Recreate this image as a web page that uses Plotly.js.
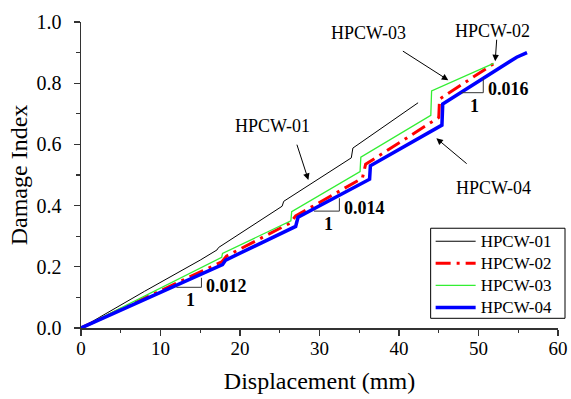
<!DOCTYPE html>
<html>
<head>
<meta charset="utf-8">
<script src="https://cdn.plot.ly/plotly-3.0.1.min.js"></script>
<style>html,body{margin:0;padding:0;background:#fff;}#chart{width:571px;height:399px;}</style>
</head>
<body>
<div id="chart"></div>
<script>
// ---- data ----
const seriesNames = ["HPCW-01", "HPCW-02", "HPCW-03", "HPCW-04"];

const x01 = [0, 8.0, 15.0, 17.1, 17.3, 25.3, 25.5, 34.0, 34.2, 42.4];
const y01 = [0, 0.120, 0.222, 0.255, 0.263, 0.398, 0.414, 0.556, 0.588, 0.736];

const x02 = [0, 8.0, 17.7, 18.3, 26.3, 27.0, 35.4, 35.8, 45.0, 45.1, 52.1];
const y02 = [0, 0.098, 0.216, 0.235, 0.343, 0.366, 0.490, 0.535, 0.688, 0.748, 0.867];

const x03 = [0, 8.0, 17.7, 17.8, 26.4, 26.5, 35.1, 35.2, 44.0, 44.1, 51.9];
const y03 = [0, 0.104, 0.231, 0.244, 0.350, 0.380, 0.511, 0.558, 0.695, 0.775, 0.865];

const x04 = [0, 8.0, 17.8, 18.2, 27.0, 27.3, 36.3, 36.4, 45.4, 45.5, 54.8, 56.1];
const y04 = [0, 0.094, 0.207, 0.222, 0.332, 0.362, 0.486, 0.530, 0.663, 0.732, 0.885, 0.900];

const xTicks = [0, 10, 20, 30, 40, 50, 60];
const yTicks = [0.0, 0.2, 0.4, 0.6, 0.8, 1.0];
const yTickText = ["0.0", "0.2", "0.4", "0.6", "0.8", "1.0"];

// slope triangles (horizontal leg x0->x1 at y0, vertical leg y0->y1 at x1)
const slopeX0 = [12.0, 29.3, 47.85];
const slopeX1 = [15.15, 32.5, 50.6];
const slopeY0 = [0.133, 0.382, 0.769];
const slopeY1 = [0.164, 0.424, 0.816];
const slopeText = ["0.012", "0.014", "0.016"];

// curve labels: text position and arrow tail/head
const labelText = ["HPCW-01", "HPCW-03", "HPCW-02", "HPCW-04"];
const labelX = [24.1, 36.1, 51.8, 51.9];
const labelY = [0.660, 0.965, 0.970, 0.457];
const arrowTailX = [27.1, 40.3, 52.3, 48.7];
const arrowTailY = [0.604, 0.908, 0.947, 0.533];
const arrowHeadX = [28.6, 46.2, 52.1, 44.7];
const arrowHeadY = [0.484, 0.810, 0.872, 0.620];

// ---- figure ----
const FONT = "Liberation Serif, Times New Roman, serif";
const legendName = n => '<span style="font-size:17px">' + n + '</span>';

const traces = [
  {x: x01, y: y01, name: legendName(seriesNames[0]), mode: "lines", line: {color: "#000000", width: 1}},
  {x: x02, y: y02, name: legendName(seriesNames[1]), mode: "lines", line: {color: "#ff0000", width: 3, dash: "15px,6px,3px,6px"}},
  {x: x03, y: y03, name: legendName(seriesNames[2]), mode: "lines", line: {color: "#33ee33", width: 1.3}},
  {x: x04, y: y04, name: legendName(seriesNames[3]), mode: "lines", line: {color: "#0000ff", width: 3.5}}
];

const shapes = slopeX0.map((x0, i) => ({
  type: "path", xref: "x", yref: "y",
  path: "M " + x0 + " " + slopeY0[i] + " L " + slopeX1[i] + " " + slopeY0[i] + " L " + slopeX1[i] + " " + slopeY1[i],
  line: {color: "#333333", width: 1}
}));
// legend frame
shapes.push({type: "rect", xref: "paper", yref: "paper", x0: 0.733, x1: 1.0147, y0: 0.0317, y1: 0.326,
  line: {color: "#000000", width: 1}, fillcolor: "rgba(0,0,0,0)"});

const annotations = [];
slopeText.forEach((t, i) => {
  annotations.push({x: slopeX1[i], y: (slopeY0[i] + slopeY1[i]) / 2 - 0.012, xref: "x", yref: "y",
    text: "<b>" + t + "</b>", showarrow: false, xanchor: "left", yanchor: "middle", xshift: 3,
    font: {family: FONT, size: 18, color: "#000"}});
  annotations.push({x: (slopeX0[i] + slopeX1[i]) / 2, y: slopeY0[i], xref: "x", yref: "y",
    text: "<b>1</b>", showarrow: false, xanchor: "center", yanchor: "top", yshift: -1, xshift: 2,
    font: {family: FONT, size: 18, color: "#000"}});
});
labelText.forEach((t, i) => {
  annotations.push({x: labelX[i], y: labelY[i], xref: "x", yref: "y", text: t, showarrow: false,
    xanchor: "center", yanchor: "middle", font: {family: FONT, size: 18, color: "#000"}});
  annotations.push({x: arrowHeadX[i], y: arrowHeadY[i], xref: "x", yref: "y",
    ax: arrowTailX[i], ay: arrowTailY[i], axref: "x", ayref: "y", text: "",
    showarrow: true, arrowhead: 2, arrowsize: 1.3, arrowwidth: 1, arrowcolor: "#000", standoff: 0, startstandoff: 0});
});

const layout = {
  width: 571, height: 399,
  margin: {l: 81, r: 13, t: 22, b: 71, pad: 0},
  paper_bgcolor: "#ffffff", plot_bgcolor: "#ffffff",
  font: {family: FONT, size: 19, color: "#000"},
  showlegend: true,
  legend: {x: 0.733, y: 0.336, xanchor: "left", yanchor: "top", bgcolor: "rgba(0,0,0,0)",
    borderwidth: 0, font: {family: FONT, size: 14.7, color: "#000"},
    tracegroupgap: 0, itemwidth: 40},
  xaxis: {
    range: [0, 60], tickvals: xTicks, ticktext: xTicks.map(String),
    showgrid: false, zeroline: false, showline: true, linecolor: "#333", linewidth: 1.5,
    ticks: "outside", ticklen: 6, tickwidth: 1.2, tickcolor: "#333",
    minor: {dtick: 5, tick0: 0, ticks: "outside", ticklen: 3.5, tickwidth: 1.2, tickcolor: "#333", showgrid: false},
    tickfont: {family: FONT, size: 19, color: "#000"}, ticklabelstandoff: -3,
    title: {text: "Displacement (mm)", font: {family: FONT, size: 24, color: "#000"}, standoff: 14},
    fixedrange: true
  },
  yaxis: {
    range: [0, 1], tickvals: yTicks, ticktext: yTickText,
    showgrid: false, zeroline: false, showline: true, linecolor: "#333", linewidth: 1.5,
    ticks: "outside", ticklen: 6, tickwidth: 1.2, tickcolor: "#333",
    minor: {dtick: 0.1, tick0: 0, ticks: "outside", ticklen: 3.5, tickwidth: 1.2, tickcolor: "#333", showgrid: false},
    tickfont: {family: FONT, size: 20, color: "#000"}, ticklabelstandoff: 8,
    title: {text: "Damage Index", font: {family: FONT, size: 24, color: "#000"}, standoff: 2},
    fixedrange: true
  },
  shapes: shapes,
  annotations: annotations
};

Plotly.newPlot("chart", traces, layout, {displayModeBar: false, staticPlot: true});
</script>
</body>
</html>
